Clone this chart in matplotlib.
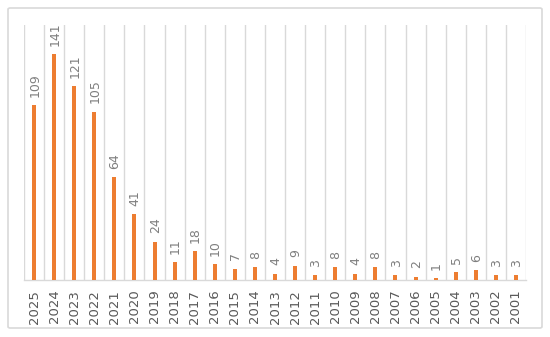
import matplotlib.pyplot as plt
from matplotlib.patches import FancyBboxPatch

years = ["2025", "2024", "2023", "2022", "2021", "2020", "2019", "2018", "2017",
         "2016", "2015", "2014", "2013", "2012", "2011", "2010", "2009", "2008",
         "2007", "2006", "2005", "2004", "2003", "2002", "2001"]
counts = [109, 141, 121, 105, 64, 41, 24, 11, 18, 10, 7, 8, 4, 9, 3, 8, 4, 8,
          3, 2, 1, 5, 6, 3, 3]

bar_color = "#ED7D31"
grid_color = "#D9D9D9"
text_color = "#7F7F7F"

fig = plt.figure(figsize=(5.5, 3.37), dpi=100)

# outer chart border
border = FancyBboxPatch((8 / 550, 9 / 337), 534 / 550, 320 / 337,
                        boxstyle="round,pad=0,rounding_size=0.004",
                        transform=fig.transFigure, facecolor="none",
                        edgecolor=grid_color, linewidth=1.2, zorder=-1)
fig.patches.append(border)

ax = fig.add_axes([24 / 550, 1 - 280 / 337, 502 / 550, 255 / 337])
ax.set_facecolor("none")

x = range(len(years))
ax.bar(x, counts, width=0.2, color=bar_color, zorder=3)

for i, v in enumerate(counts):
    ax.annotate(str(v), (i, v), xytext=(0.5, 6), textcoords="offset points",
                rotation=90, ha="center", va="bottom", fontsize=9,
                color=text_color)

ax.set_xlim(-0.5, len(years) - 0.5)
ax.set_ylim(0, 159)
ax.set_yticks([])

ax.set_xticks(list(x))
ax.set_xticklabels(years, rotation=90, fontsize=9.5, color="#595959")
ax.tick_params(axis="x", length=0, pad=7)

# vertical gridlines between categories
ax.set_xticks([i - 0.5 for i in range(len(years) + 1)], minor=True)
ax.tick_params(axis="x", which="minor", length=0)
ax.grid(True, which="minor", axis="x", color=grid_color, linewidth=1, zorder=0)

for side in ["top", "left", "right"]:
    ax.spines[side].set_visible(False)
ax.spines["bottom"].set_color(grid_color)
ax.spines["bottom"].set_linewidth(1)

fig.savefig("out.png", dpi=100)
